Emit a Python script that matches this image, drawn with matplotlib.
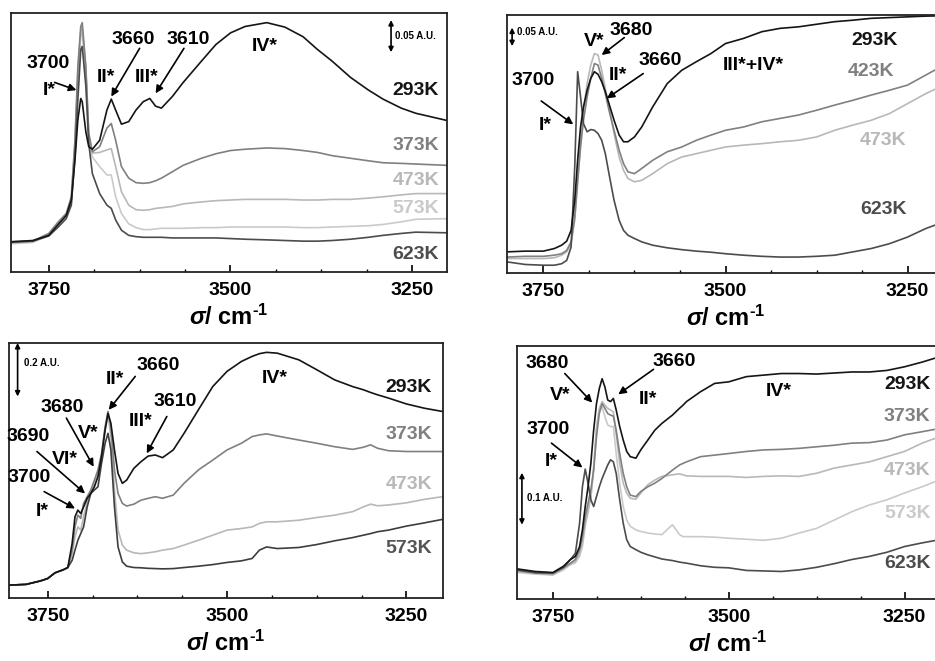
import matplotlib
matplotlib.use("Agg")
import matplotlib.pyplot as plt
from matplotlib.ticker import FixedLocator, MultipleLocator

plt.rcParams.update({
    "font.family": ["Liberation Sans", "DejaVu Sans"],
    "font.weight": "bold",
    "mathtext.fontset": "custom",
    "mathtext.rm": "Liberation Sans:bold",
    "mathtext.it": "Liberation Sans:italic",
    "mathtext.bf": "Liberation Sans:bold",
})

# ---------------- data (absorbance in mA.U., baseline-shifted) ----------------
MAJOR_TICKS = [3750, 3500, 3250]

# (a) sample A, 293-623 K
P1_WN = [3802, 3772, 3750, 3737, 3726, 3719, 3714, 3710, 3706, 3704, 3699, 3695, 3690, 3680,
         3670, 3664, 3658, 3650, 3640, 3630, 3620, 3611, 3603, 3595, 3580, 3565, 3540, 3520,
         3500, 3480, 3450, 3425, 3400, 3380, 3360, 3335, 3310, 3290, 3265, 3245, 3203]
P1_293K = [47, 49, 57, 74, 88, 112, 174, 237, 270, 265, 218, 195, 191, 205, 252, 269, 252, 230,
           234, 252, 265, 270, 258, 255, 273, 295, 328, 354, 372, 382, 388, 381, 366, 346, 328,
           303, 283, 269, 255, 247, 236]
P1_373K = [46, 48, 60, 78, 91, 117, 205, 320, 382, 388, 320, 216, 187, 195, 224, 231, 205, 164,
           146, 139, 138, 139, 142, 146, 156, 166, 177, 184, 189, 191, 193, 192, 189, 186, 181,
           177, 173, 170, 169, 168, 166]
P1_473K = [45, 47, 59, 75, 88, 112, 200, 309, 374, 380, 315, 211, 185, 186, 190, 192, 164, 125,
           104, 97, 96, 97, 99, 100, 102, 106, 109, 111, 112, 113, 113, 113, 112, 112, 113, 113,
           115, 117, 120, 122, 122]
P1_573K = [44, 46, 57, 73, 86, 107, 195, 299, 367, 372, 309, 205, 179, 164, 151, 151, 117, 91,
           75, 69, 66, 66, 67, 68, 68, 68, 69, 69, 70, 70, 70, 70, 69, 69, 70, 71, 72, 74, 78,
           82, 83]
P1_623K = [47, 48, 56, 70, 83, 104, 179, 268, 346, 351, 289, 200, 153, 122, 104, 99, 81, 65, 57,
           55, 54, 54, 54, 54, 53, 53, 53, 53, 52, 51, 50, 49, 48, 48, 49, 51, 54, 57, 60, 62, 61]

# (b) sample B, 293-623 K
P2_WN = [3800, 3775, 3750, 3735, 3725, 3718, 3712, 3707, 3703, 3699, 3695, 3690, 3685, 3680,
         3675, 3670, 3665, 3660, 3653, 3646, 3640, 3634, 3625, 3615, 3600, 3580, 3560, 3540,
         3520, 3500, 3475, 3450, 3425, 3400, 3375, 3350, 3325, 3300, 3275, 3250, 3225, 3200]
P2_293K = [57, 59, 59, 66, 75, 86, 115, 196, 304, 394, 448, 493, 525, 543, 536, 516, 489, 457,
           412, 372, 354, 354, 367, 394, 448, 511, 547, 570, 592, 619, 633, 651, 660, 664, 671,
           678, 682, 687, 689, 691, 693, 694]
P2_423K = [43, 45, 45, 48, 52, 61, 84, 151, 250, 340, 412, 475, 525, 565, 561, 525, 484, 439,
           385, 331, 295, 273, 268, 282, 304, 327, 340, 358, 372, 385, 394, 408, 417, 426, 439,
           453, 466, 480, 493, 507, 534, 561]
P2_473K = [39, 39, 39, 41, 48, 57, 79, 142, 241, 349, 439, 511, 561, 592, 588, 547, 498, 448,
           376, 313, 277, 255, 246, 250, 268, 295, 313, 322, 331, 340, 345, 349, 354, 358, 367,
           385, 399, 412, 430, 457, 484, 507]
P2_623K = [30, 23, 21, 21, 25, 34, 70, 286, 543, 475, 403, 381, 387, 385, 376, 358, 322, 268,
           196, 142, 115, 102, 93, 84, 75, 68, 63, 59, 56, 52, 48, 45, 43, 43, 45, 48, 57, 66,
           79, 97, 120, 138]

# (c) sample C, 293-573 K
P3_WN = [3804, 3780, 3760, 3750, 3740, 3728, 3722, 3716, 3712, 3708, 3704, 3700, 3695, 3690,
         3685, 3680, 3675, 3670, 3666, 3662, 3657, 3652, 3646, 3640, 3630, 3620, 3610, 3600,
         3590, 3575, 3560, 3540, 3520, 3500, 3480, 3465, 3455, 3445, 3430, 3400, 3375, 3350,
         3325, 3310, 3300, 3290, 3275, 3250, 3225, 3200]
P3_293K = [48, 51, 64, 73, 94, 106, 114, 204, 304, 329, 316, 341, 373, 391, 416, 454, 529, 629,
           691, 654, 554, 466, 429, 441, 485, 510, 531, 535, 525, 554, 616, 704, 791, 848, 885,
           904, 914, 919, 916, 891, 854, 816, 791, 779, 769, 760, 748, 726, 710, 698]
P3_373K = [48, 51, 64, 73, 94, 106, 114, 179, 266, 310, 298, 354, 379, 404, 441, 479, 541, 641,
           698, 641, 479, 391, 354, 344, 351, 366, 373, 379, 373, 385, 429, 479, 516, 554, 579,
           604, 610, 614, 606, 591, 579, 566, 556, 564, 573, 560, 551, 548, 548, 548]
P3_473K = [48, 51, 64, 73, 94, 106, 114, 166, 229, 266, 254, 304, 360, 391, 435, 466, 529, 629,
           685, 604, 404, 254, 198, 179, 169, 166, 169, 173, 179, 185, 198, 216, 235, 254, 260,
           266, 279, 285, 285, 291, 301, 310, 323, 341, 351, 345, 348, 356, 369, 379]
P3_573K = [48, 51, 64, 73, 94, 106, 114, 141, 179, 216, 241, 266, 341, 391, 404, 416, 504, 579,
           616, 554, 341, 191, 135, 119, 114, 113, 111, 110, 109, 110, 114, 119, 125, 133, 139,
           148, 179, 191, 185, 189, 200, 214, 226, 235, 241, 248, 254, 269, 281, 294]

# (d) sample D, 293-623 K
P4_WN = [3801, 3775, 3750, 3735, 3725, 3718, 3712, 3708, 3704, 3700, 3696, 3692, 3688, 3684,
         3680, 3676, 3672, 3668, 3664, 3660, 3655, 3650, 3645, 3640, 3632, 3625, 3615, 3605,
         3595, 3580, 3570, 3565, 3560, 3540, 3520, 3500, 3475, 3450, 3425, 3400, 3375, 3350,
         3325, 3300, 3275, 3250, 3225, 3201]
P4_293K = [58, 53, 51, 63, 76, 82, 101, 133, 178, 216, 261, 325, 376, 405, 424, 408, 383, 380,
           386, 364, 332, 306, 284, 274, 271, 287, 306, 325, 338, 354, 367, 373, 380, 399, 415,
           418, 428, 431, 434, 434, 433, 435, 437, 437, 440, 447, 456, 466]
P4_373K = [55, 50, 49, 60, 69, 76, 95, 120, 159, 184, 210, 248, 312, 357, 376, 367, 357, 354,
           352, 325, 280, 242, 216, 200, 197, 207, 216, 223, 232, 248, 258, 261, 264, 274, 277,
           280, 284, 287, 288, 290, 293, 296, 300, 301, 306, 316, 322, 328]
P4_473K = [53, 49, 47, 58, 68, 72, 88, 108, 146, 172, 197, 248, 325, 367, 380, 373, 367, 364,
           360, 319, 261, 223, 204, 194, 192, 204, 220, 229, 236, 239, 241, 239, 237, 236, 236,
           236, 234, 236, 237, 236, 242, 252, 258, 264, 274, 284, 300, 312]
P4_573K = [51, 48, 46, 56, 66, 70, 82, 101, 140, 165, 197, 255, 332, 364, 370, 351, 335, 332,
           332, 280, 223, 178, 152, 140, 133, 130, 127, 125, 124, 143, 124, 120, 120, 120, 119,
           117, 115, 113, 117, 127, 136, 152, 168, 181, 191, 204, 216, 229]
P4_623K = [56, 51, 50, 61, 76, 88, 146, 216, 250, 223, 191, 178, 197, 216, 232, 245, 258, 268,
           264, 242, 191, 146, 114, 101, 95, 90, 85, 81, 77, 74, 71, 70, 69, 64, 61, 60, 55, 54,
           53, 56, 61, 68, 76, 82, 90, 101, 108, 114]

# ---------------- styling ----------------
C293 = "#151515"
C373 = "#808080"
C473 = "#b8b8b8"
C573 = "#cacaca"
C573_DARK = "#3e3e3e"
C623 = "#4c4c4c"
LW = 1.2
FS = 14

fig = plt.figure(figsize=(9.35, 6.61), dpi=100)
W, H = 935.0, 661.0


def add_axes(left, top, right, bottom):
    return fig.add_axes([left / W, 1 - bottom / H, (right - left) / W, (bottom - top) / H])


def setup(ax, xlim, ylim):
    ax.set_xlim(*xlim)
    ax.set_ylim(*ylim)
    ax.xaxis.set_major_locator(FixedLocator(MAJOR_TICKS))
    ax.xaxis.set_minor_locator(MultipleLocator(62.5))
    ax.tick_params(axis="x", which="major", direction="in", length=5, width=1.2,
                   labelsize=FS, pad=7)
    ax.tick_params(axis="x", which="minor", direction="in", length=2.5, width=1.0)
    ax.set_yticks([])
    for s in ax.spines.values():
        s.set_linewidth(1.3)
        s.set_color("#222222")
    ax.set_xlabel(r"$\sigma$/ cm$^{\text{-1}}$", fontsize=17, fontweight="bold", labelpad=4)


def curves(ax, wn, series):
    for y, c in series:
        ax.plot(wn, y, color=c, lw=LW, solid_joinstyle="round")


def label(ax, x, y, s, color="black", ha="center", fs=FS):
    ax.text(x, y, s, ha=ha, va="center", fontsize=fs, fontweight="bold", color=color)


def arrow(ax, tail, tip):
    ax.annotate("", xy=tip, xytext=tail,
                arrowprops=dict(arrowstyle="-|>", color="black", lw=1.2,
                                mutation_scale=11, shrinkA=0, shrinkB=0))


def scale_bar(ax, x, y0, y1, text, tx, ty):
    ax.annotate("", xy=(x, y1), xytext=(x, y0),
                arrowprops=dict(arrowstyle="<|-|>", color="black", lw=1.2,
                                mutation_scale=7, shrinkA=0, shrinkB=0))
    ax.text(tx, ty, text, ha="left", va="center", fontsize=7, fontweight="bold")


# ---- panel (a) ----
ax1 = add_axes(11, 13, 447, 272)
setup(ax1, (3802, 3202), (0, 403))
curves(ax1, P1_WN, [(P1_573K, C573), (P1_473K, C473), (P1_373K, C373),
                    (P1_623K, C623), (P1_293K, C293)])
label(ax1, 3751, 325, "3700")
label(ax1, 3750, 283, "I*")
label(ax1, 3634, 361, "3660")
label(ax1, 3671, 302, "II*")
label(ax1, 3558, 361, "3610")
label(ax1, 3616, 302, "III*")
label(ax1, 3453, 351, "IV*")
arrow(ax1, (3742, 295), (3712, 283))
arrow(ax1, (3625, 348), (3664, 273))
arrow(ax1, (3564, 348), (3603, 278))
label(ax1, 3213, 283, "293K", C293, ha="right")
label(ax1, 3213, 197, "373K", C373, ha="right")
label(ax1, 3213, 143, "473K", C473, ha="right")
label(ax1, 3213, 99, "573K", C573, ha="right")
label(ax1, 3213, 28, "623K", C623, ha="right")
scale_bar(ax1, 3279, 342, 392, "0.05 A.U.", 3273, 367)

# ---- panel (b) ----
ax2 = add_axes(507, 15, 944, 273)
setup(ax2, (3800, 3200), (0, 696))
curves(ax2, P2_WN, [(P2_473K, C473), (P2_423K, C373), (P2_623K, C623), (P2_293K, C293)])
label(ax2, 3680, 624, "V*")
label(ax2, 3629, 655, "3680")
label(ax2, 3590, 574, "3660")
label(ax2, 3648, 534, "II*")
label(ax2, 3764, 520, "3700")
label(ax2, 3748, 399, "I*")
label(ax2, 3462, 561, "III*+IV*")
arrow(ax2, (3639, 635), (3670, 588))
arrow(ax2, (3613, 538), (3663, 471))
arrow(ax2, (3753, 464), (3709, 401))
label(ax2, 3295, 626, "293K", C293)
label(ax2, 3300, 543, "423K", C373)
label(ax2, 3283, 358, "473K", C473)
label(ax2, 3283, 172, "623K", C623)
scale_bar(ax2, 3793, 612, 662, "0.05 A.U.", 3786, 649)

# ---- panel (c) ----
ax3 = add_axes(9, 343, 443, 598)
setup(ax3, (3804, 3199), (0, 954))
curves(ax3, P3_WN, [(P3_473K, C473), (P3_373K, C373), (P3_573K, C573_DARK), (P3_293K, C293)])
label(ax3, 3596, 869, "3660")
label(ax3, 3656, 819, "II*")
label(ax3, 3572, 735, "3610")
label(ax3, 3621, 660, "III*")
label(ax3, 3433, 823, "IV*")
label(ax3, 3730, 714, "3680")
label(ax3, 3693, 614, "V*")
label(ax3, 3777, 606, "3690")
label(ax3, 3726, 519, "VI*")
label(ax3, 3776, 451, "3700")
label(ax3, 3757, 323, "I*")
arrow(ax3, (3628, 829), (3665, 704))
arrow(ax3, (3584, 679), (3612, 541))
arrow(ax3, (3724, 673), (3686, 491))
arrow(ax3, (3765, 548), (3698, 391))
arrow(ax3, (3755, 398), (3712, 335))
label(ax3, 3214, 789, "293K", C293, ha="right")
label(ax3, 3214, 610, "373K", C373, ha="right")
label(ax3, 3214, 423, "473K", C473, ha="right")
label(ax3, 3214, 185, "573K", "#555555", ha="right")
scale_bar(ax3, 3792, 754, 954, "0.2 A.U.", 3783, 879)

# ---- panel (d) ----
ax4 = add_axes(517, 346, 939, 599)
setup(ax4, (3801, 3201), (0, 487))
curves(ax4, P4_WN, [(P4_573K, C573), (P4_473K, C473), (P4_373K, C373),
                    (P4_623K, C623), (P4_293K, C293)])
label(ax4, 3758, 453, "3680")
label(ax4, 3739, 392, "V*")
label(ax4, 3578, 458, "3660")
label(ax4, 3615, 384, "II*")
label(ax4, 3757, 327, "3700")
label(ax4, 3752, 264, "I*")
label(ax4, 3429, 399, "IV*")
arrow(ax4, (3733, 434), (3694, 378))
arrow(ax4, (3607, 442), (3657, 394))
arrow(ax4, (3752, 300), (3708, 253))
label(ax4, 3213, 413, "293K", C293, ha="right")
label(ax4, 3213, 351, "373K", C373, ha="right")
label(ax4, 3213, 248, "473K", C473, ha="right")
label(ax4, 3213, 165, "573K", C573, ha="right")
label(ax4, 3213, 69, "623K", C623, ha="right")
scale_bar(ax4, 3794, 143, 243, "0.1 A.U.", 3787, 194)

fig.savefig("out.png", dpi=100)
